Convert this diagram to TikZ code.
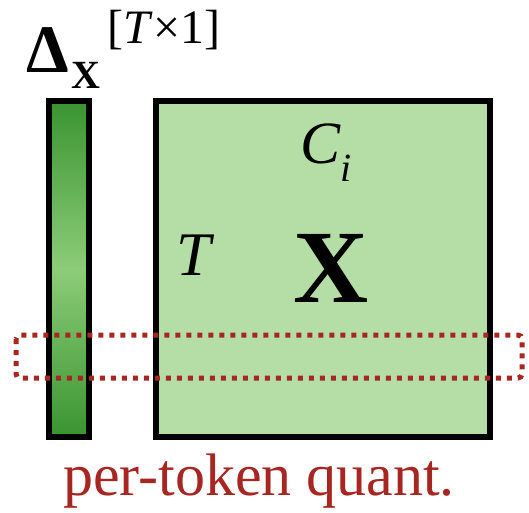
\documentclass[tikz,border=0pt]{standalone}
\usepackage{fontspec}
\setmainfont{Liberation Serif}
\usepackage{tikz}
\usetikzlibrary{positioning}
\definecolor{qgreen}{RGB}{181,222,167}
\definecolor{qdark}{RGB}{58,148,48}
\definecolor{qlight}{RGB}{140,204,120}
\definecolor{qred}{RGB}{168,38,34}
\newcommand{\fsz}[1]{\fontsize{#1}{#1}\selectfont}
\tikzset{
  matbox/.style={draw=black,line width=6pt,inner sep=0pt,minimum width=#1},
  rowbox/.style={draw=qred,line width=5pt,dash pattern=on 5pt off 6pt,rounded corners=4pt},
  lbl/.style={inner sep=0pt,outer sep=0pt}
}

\begin{document}
\begin{tikzpicture}[x=1pt,y=-1pt]
    \useasboundingbox (0,0) rectangle (529,512);
    % scale vector and activation matrix
    \node[matbox=40pt,minimum height=336pt,top color=qdark,bottom color=qdark,
      middle color=qlight] (delta) at (69,269) {};
    \node[matbox=334pt,minimum height=336pt,fill=qgreen] (xmat) at (323,269) {};
    % one token row
    \draw[rowbox] (16,335) rectangle (522,378);
    % labels
    \node[lbl,anchor=base west] (dlbl) at (26,72)
      {\fsz{68}\bfseries Δ\hspace{3pt}\raisebox{-16pt}{\fsz{40}X}\hspace{7pt}\raisebox{29pt}{\fsz{48}\mdseries[\textit{T}×1]}};
    \node[lbl,anchor=base west] (clbl) at (300,163) {\fsz{60}\textit{C}\raisebox{-0.3em}{\fsz{40}\textit{i}}};
    \node[lbl,anchor=base west] (tlbl) at (176,275) {\fsz{62}\textit{T}};
    \node[lbl,anchor=base] (xlbl) at (331,302) {\fsz{104}\bfseries X};
    \node[lbl,anchor=base,text=qred] (qlbl) at (259,495) {\fsz{60}per-token quant.};
\end{tikzpicture}
\end{document}
